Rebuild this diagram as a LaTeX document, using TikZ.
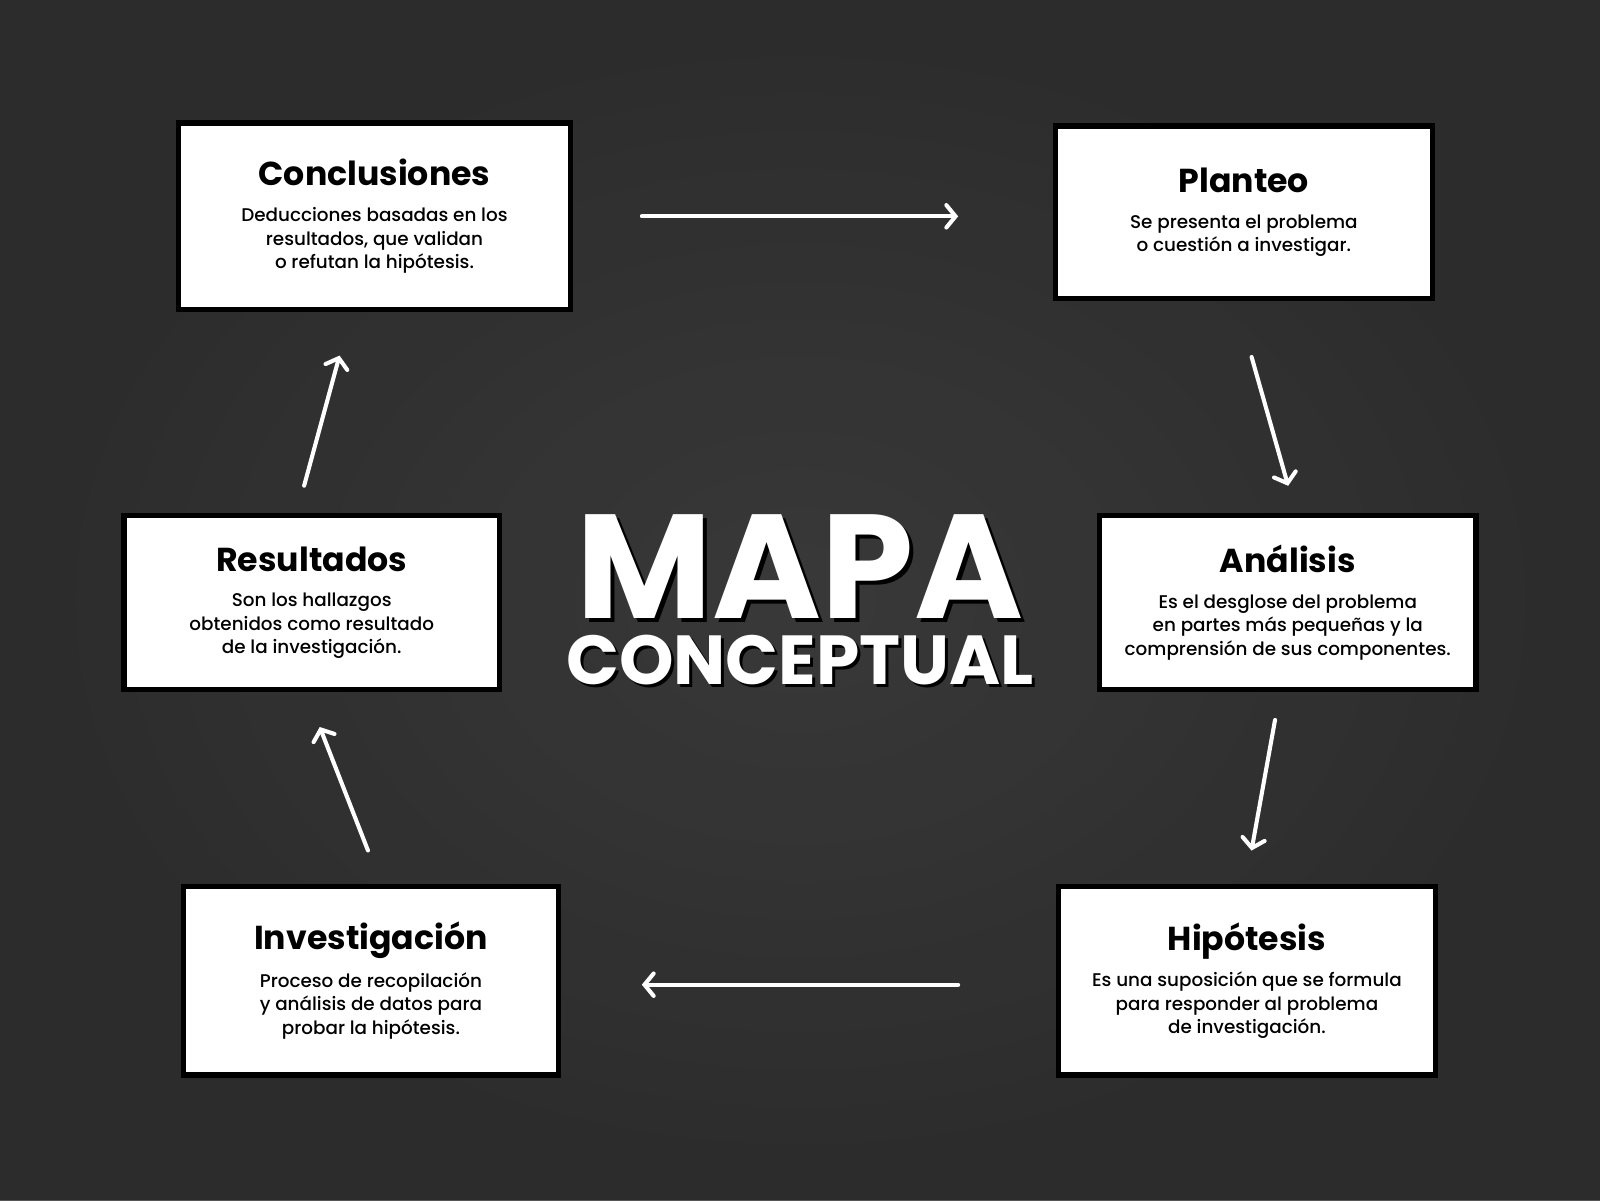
\documentclass[tikz,border=0pt]{standalone}
\usepackage{fontspec}
\setmainfont{Poppins}[UprightFont=* Medium, BoldFont=* Bold]
\usetikzlibrary{arrows.meta, calc}

\definecolor{paper}{RGB}{44,44,44}
\definecolor{paperlight}{RGB}{60,60,60}

\newcommand{\headfmt}{\fontsize{32.5}{38}\selectfont\bfseries}
\newcommand{\bodyfmt}{\fontsize{18}{23}\selectfont}

\begin{document}
\begin{tikzpicture}[
    x=1pt, y=-1pt,
    % Card style
    card/.style={
        rectangle,
        draw=black,
        line width=5pt,
        fill=white,
        align=center,
        inner sep=0pt,
        font=\bodyfmt
    },
    % Title styles
    bigtitle/.style={font=\fontsize{145}{145}\selectfont\bfseries, inner sep=0pt},
    subtitle/.style={font=\fontsize{68}{68}\selectfont\bfseries, inner sep=0pt},
    % Arrow style
    flow/.style={
        draw=white,
        line width=4pt,
        line cap=round,
        -{Straight Barb[length=9pt, width=22pt, line cap=round]}
    }
]

% === Background ===
\useasboundingbox (0,0) rectangle (1568,1176);
\fill[paper] (0,0) rectangle (1568,1176);
\shade[inner color=paperlight, outer color=paper, opacity=0.8] (0,0) rectangle (1568,1176);

% === Title ===
\node[bigtitle, text=black] at (788,559) {MAPA};
\node[bigtitle, text=white] (mapa) at (784,555) {MAPA};
\node[subtitle, text=black] at (787,650) {CONCEPTUAL};
\node[subtitle, text=white] (concep) at (784,647) {CONCEPTUAL};

% === Cards ===
\node[card, minimum width=385pt, minimum height=183pt] (concl) at (367,212)
    {{\headfmt Conclusiones}\\[12pt]Deducciones basadas en los\\resultados, que validan\\o refutan la hipótesis.};
\node[card, minimum width=369pt, minimum height=169pt] (plan) at (1219,208)
    {{\headfmt Planteo}\\[12pt]Se presenta el problema\\o cuestión a investigar.};
\node[card, minimum width=368pt, minimum height=170pt] (res) at (305.5,590.5)
    {{\headfmt Resultados}\\[12pt]Son los hallazgos\\obtenidos como resultado\\de la investigación.};
\node[card, minimum width=369pt, minimum height=170pt] (ana) at (1262,590.5)
    {{\headfmt Análisis}\\[12pt]Es el desglose del problema\\en partes más pequeñas y la\\comprensión de sus componentes.};
\node[card, minimum width=368pt, minimum height=185pt] (inv) at (363.5,961)
    {{\headfmt Investigación}\\[12pt]Proceso de recopilación\\y análisis de datos para\\probar la hipótesis.};
\node[card, minimum width=369pt, minimum height=185pt] (hip) at (1222,961)
    {{\headfmt Hipótesis}\\[12pt]Es una suposición que se formula\\para responder al problema\\de investigación.};

% === Cycle arrows ===
\draw[flow, shorten <=67pt, shorten >=93pt] (concl.east) -- (concl.east -| plan.west);
\draw[flow, shorten <=57pt, shorten >=28pt] ([xshift=-8pt]plan.south) -- ([xshift=8pt]ana.north);
\draw[flow, shorten <=28pt, shorten >=33pt] ([xshift=-7.5pt]ana.south) -- ([xshift=-1.4pt]hip.north);
\draw[flow, shorten <=96pt, shorten >=79pt] ([yshift=-4pt]hip.west) -- ([yshift=-4pt]hip.west -| inv.east);
\draw[flow, shorten <=35pt, shorten >=37pt] ([xshift=9.8pt]inv.north) -- ([xshift=-5.6pt]res.south);
\draw[flow, shorten <=28pt, shorten >=44pt] ([xshift=-14.8pt]res.north) -- ([xshift=-22.7pt]concl.south);

\end{tikzpicture}
\end{document}
